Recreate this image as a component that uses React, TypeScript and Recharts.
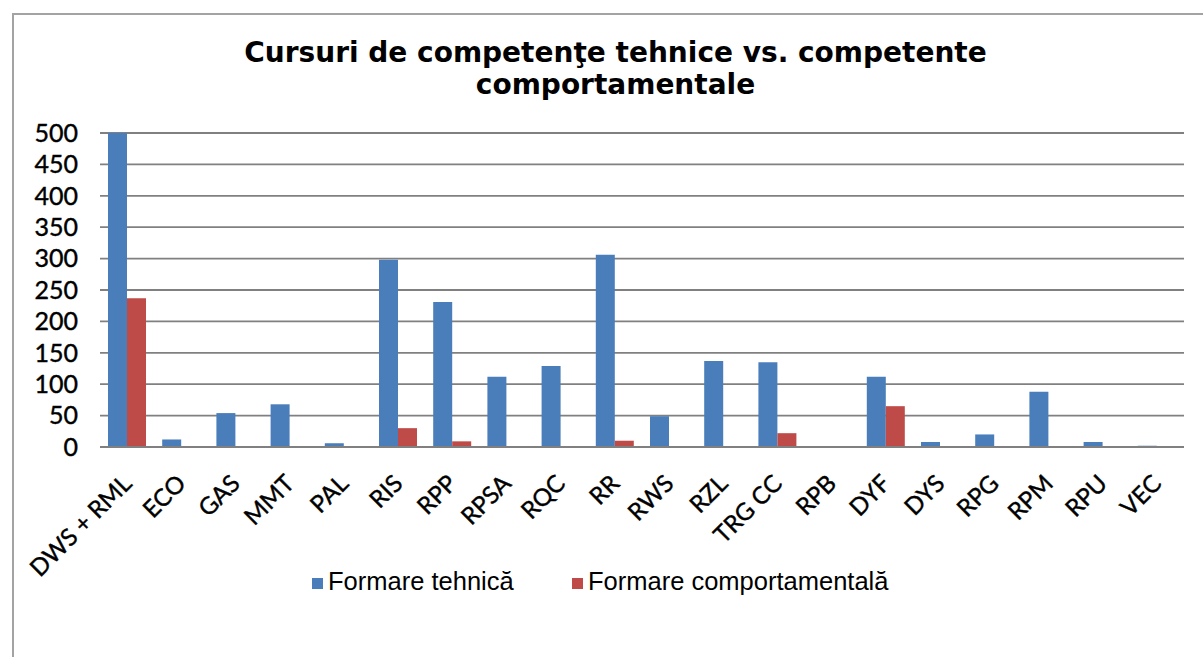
import React from "react";
import { BarChart, Bar, XAxis, YAxis, CartesianGrid, Legend } from "recharts";

const categories = [
  "DWS + RML", "ECO", "GAS", "MMT", "PAL", "RIS", "RPP", "RPSA", "RQC", "RR",
  "RWS", "RZL", "TRG CC", "RPB", "DYF", "DYS", "RPG", "RPM", "RPU", "VEC",
];
const tehnica = [500, 12, 54, 68, 6, 298, 231, 112, 129, 306, 49, 137, 135, 0, 112, 8, 20, 88, 8, 2];
const comportamentala = [237, 0, 0, 0, 0, 30, 9, 0, 0, 10, 0, 0, 22, 0, 65, 0, 0, 0, 0, 0];
const yTicks = [0, 50, 100, 150, 200, 250, 300, 350, 400, 450, 500];

const BLUE = "#4a7ebb";
const RED = "#be4b48";

const data = categories.map((name, i) => ({
  name,
  tehnica: tehnica[i],
  comportamentala: comportamentala[i],
}));

const XTick = (props: any) => {
  const { x, y, payload } = props;
  const ax = x + 6;
  const ay = y + 38;
  return (
    <text
      x={ax}
      y={ay}
      textAnchor="end"
      transform={`rotate(-45 ${ax} ${ay})`}
      fontFamily="Lato, sans-serif"
      fontSize={24}
      fill="#000"
      stroke="#000"
      strokeWidth={0.4}
    >
      {payload.value}
    </text>
  );
};

const LegendContent = () => (
  <div style={{ position: "relative", height: 40, fontFamily: "'Liberation Sans', Arial", fontSize: 25.5, color: "#000" }}>
    <span style={{ position: "absolute", left: 312, top: 12, width: 11, height: 11, background: BLUE }} />
    <span style={{ position: "absolute", left: 328, top: 1 }}>Formare tehnică</span>
    <span style={{ position: "absolute", left: 572, top: 12, width: 11, height: 11, background: RED }} />
    <span style={{ position: "absolute", left: 588, top: 1 }}>Formare comportamentală</span>
  </div>
);

export default function App() {
  return (
    <div style={{ position: "absolute", left: 0, top: 0, width: 1203, height: 657, background: "#fff", overflow: "hidden" }}>
      <div style={{ position: "absolute", left: 12, top: 13, right: -4, bottom: -4, border: "2px solid #a3a3a3" }} />
      <div
        style={{
          position: "absolute",
          left: 0,
          width: 1231,
          top: 37,
          textAlign: "center",
          fontFamily: "'DejaVu Sans'",
          fontWeight: 700,
          fontSize: 28,
          lineHeight: "32px",
          color: "#000",
        }}
      >
        Cursuri de competenţe tehnice vs. competente
        <br />
        comportamentale
      </div>
      <BarChart
        width={1203}
        height={657}
        data={data}
        margin={{ top: 133, right: 19, bottom: 0, left: 0 }}
        barGap={0}
        barCategoryGap={8}
        style={{ position: "absolute", left: 0, top: 0 }}
      >
        <CartesianGrid vertical={false} stroke="#808080" strokeWidth={1.8} />
        <YAxis
          domain={[0, 500]}
          ticks={yTicks}
          interval={0}
          width={100}
          axisLine={false}
          tickLine={false}
          tickSize={0}
          tickMargin={22}
          tick={{ fontFamily: "Lato, sans-serif", fontSize: 25, fill: "#000", stroke: "#000", strokeWidth: 0.4 }}
        />
        <XAxis
          dataKey="name"
          height={210}
          interval={0}
          tickLine={false}
          tickSize={0}
          tickMargin={0}
          axisLine={{ stroke: "#808080", strokeWidth: 1.8 }}
          tick={<XTick />}
        />
        <Legend
          verticalAlign="middle"
          align="center"
          layout="horizontal"
          wrapperStyle={{ top: 566, left: 0, width: 1203 }}
          content={<LegendContent />}
        />
        <Bar dataKey="tehnica" name="Formare tehnică" fill={BLUE} isAnimationActive={false} />
        <Bar dataKey="comportamentala" name="Formare comportamentală" fill={RED} isAnimationActive={false} />
      </BarChart>
    </div>
  );
}
